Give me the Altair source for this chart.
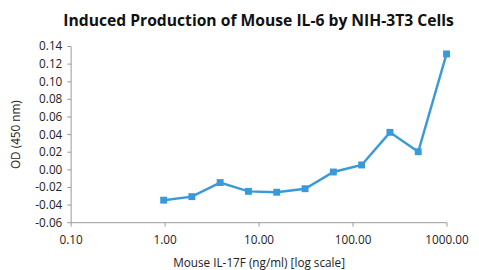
import altair as alt
import pandas as pd

conc = [0.977, 1.95, 3.9, 7.8, 15.6, 31.25, 62.5, 125, 250, 500, 1000]
od = [-0.035, -0.031, -0.015, -0.025, -0.026, -0.022, -0.003, 0.005, 0.042, 0.020, 0.131]
x_ticks = [0.1, 1, 10, 100, 1000]
y_ticks = [-0.06, -0.04, -0.02, 0.0, 0.02, 0.04, 0.06, 0.08, 0.10, 0.12, 0.14]

df = pd.DataFrame({"conc": conc, "od": od})

color = "#3A9AD9"
font = "Open Sans"

x = alt.X("conc:Q",
          scale=alt.Scale(type="log", domain=[0.1, 1000], nice=False),
          axis=alt.Axis(values=x_ticks, format=".2f", title="Mouse IL-17F (ng/ml) [log scale]",
                        grid=False, domainColor="#999999", tickColor="#999999", tickSize=4,
                        labelFontSize=12, labelColor="#222222", labelPadding=9,
                        titleFontSize=12, titleFontWeight="normal", titleColor="#222222",
                        titlePadding=12, labelFont=font, titleFont=font, labelFlush=False))
y = alt.Y("od:Q",
          scale=alt.Scale(domain=[-0.06, 0.14], nice=False, zero=False),
          axis=alt.Axis(values=y_ticks, title="OD (450 nm)", grid=False,
                        labelExpr="replace(format(datum.value, '.2f'), '\u2212', '-')",
                        domainColor="#999999", tickColor="#999999", tickSize=4,
                        labelFontSize=12, labelColor="#222222", labelPadding=5,
                        titleFontSize=12, titleFontWeight="normal", titleColor="#222222",
                        titlePadding=13, labelFont=font, titleFont=font))

line = alt.Chart(df).mark_line(color=color, strokeWidth=2.5).encode(x=x, y=y)
pts = alt.Chart(df).mark_point(shape="square", filled=True, size=50, color=color, opacity=1).encode(x=x, y=y)

chart = (line + pts).properties(
    width=384, height=180,
    title=alt.TitleParams("Induced Production of Mouse IL-6 by NIH-3T3 Cells",
                          fontSize=16, fontWeight="bold", font=font, color="#111111",
                          anchor="middle", offset=11),
    autosize=alt.AutoSizeParams(type="none"),
    padding={"left": 64, "top": 36, "right": 25, "bottom": 46},
).configure_view(stroke=None)

chart.save("out.html", embed_options={"renderer": "svg", "actions": False})
